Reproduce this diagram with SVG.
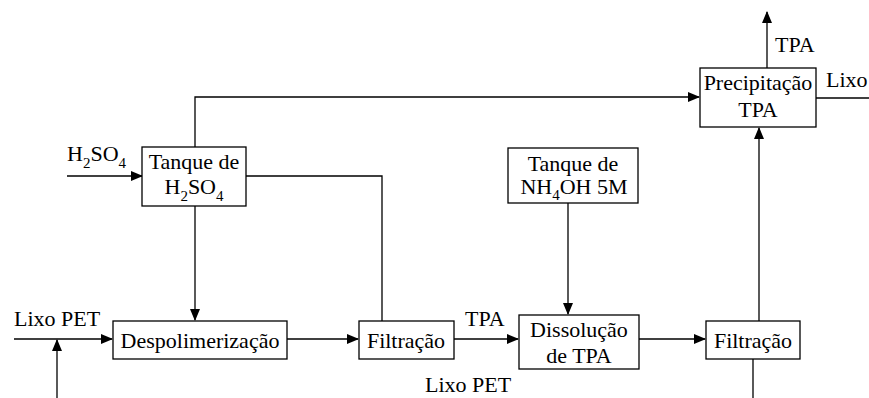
<svg xmlns="http://www.w3.org/2000/svg" width="869" height="398" viewBox="0 0 869 398" font-family="Liberation Serif" font-size="22">
<defs>
<marker id="ah" markerWidth="12" markerHeight="10" refX="11" refY="5" orient="auto" markerUnits="userSpaceOnUse">
<path d="M0,0 L12,5 L0,10 Z" fill="#000"/>
</marker>
<style>
.box{fill:#fff;stroke:#000;stroke-width:1.3}
.ln{fill:none;stroke:#000;stroke-width:1.3}
.c{text-anchor:middle}
</style>
</defs>
<rect width="869" height="398" fill="#fff"/>
<g id="connectors">
<path class="ln" d="M67,176 H142" marker-end="url(#ah)"/>
<path class="ln" d="M195,147 V97 H699" marker-end="url(#ah)"/>
<path class="ln" d="M246,176 H382 V321"/>
<path class="ln" d="M195,206 V320" marker-end="url(#ah)"/>
<path class="ln" d="M14,339 H112" marker-end="url(#ah)"/>
<path class="ln" d="M57,398 V340" marker-end="url(#ah)"/>
<path class="ln" d="M287,339 H358" marker-end="url(#ah)"/>
<path class="ln" d="M454,339 H518" marker-end="url(#ah)"/>
<path class="ln" d="M568,203 V314" marker-end="url(#ah)"/>
<path class="ln" d="M639,339 H705" marker-end="url(#ah)"/>
<path class="ln" d="M759,321 V128" marker-end="url(#ah)"/>
<path class="ln" d="M753,359 V398"/>
<path class="ln" d="M767,68 V12" marker-end="url(#ah)"/>
<path class="ln" d="M816,98 H869"/>
</g>
<g id="labels">
<text x="67" y="161">H<tspan font-size="15" dy="7">2</tspan><tspan dy="-7">SO</tspan><tspan font-size="15" dy="7">4</tspan></text>
<text x="14" y="326">Lixo PET</text>
<text x="465" y="326">TPA</text>
<text x="425" y="392">Lixo PET</text>
<text x="775" y="52">TPA</text>
<text x="826" y="87">Lixo</text>
</g>
<g id="tanque-h2so4">
<rect class="box" x="142" y="147" width="104" height="59"/>
<text class="c" x="194" y="169">Tanque de</text>
<text class="c" x="194" y="194">H<tspan font-size="15" dy="7">2</tspan><tspan dy="-7">SO</tspan><tspan font-size="15" dy="7">4</tspan></text>
</g>
<g id="despolimerizacao">
<rect class="box" x="113" y="321" width="174" height="38"/>
<text class="c" x="200" y="348">Despolimerização</text>
</g>
<g id="filtracao1">
<rect class="box" x="359" y="321" width="95" height="38"/>
<text class="c" x="406" y="348">Filtração</text>
</g>
<g id="tanque-nh4oh">
<rect class="box" x="508" y="148" width="130" height="55"/>
<text class="c" x="573" y="171">Tanque de</text>
<text class="c" x="574" y="194">NH<tspan font-size="15" dy="6">4</tspan><tspan dy="-6">OH 5M</tspan></text>
</g>
<g id="dissolucao">
<rect class="box" x="519" y="315" width="120" height="54"/>
<text class="c" x="579" y="337">Dissolução</text>
<text class="c" x="579" y="363">de TPA</text>
</g>
<g id="filtracao2">
<rect class="box" x="706" y="321" width="94" height="38"/>
<text class="c" x="753" y="348">Filtração</text>
</g>
<g id="precipitacao">
<rect class="box" x="700" y="68" width="116" height="59"/>
<text class="c" x="758" y="90">Precipitação</text>
<text class="c" x="758" y="117">TPA</text>
</g>
</svg>
